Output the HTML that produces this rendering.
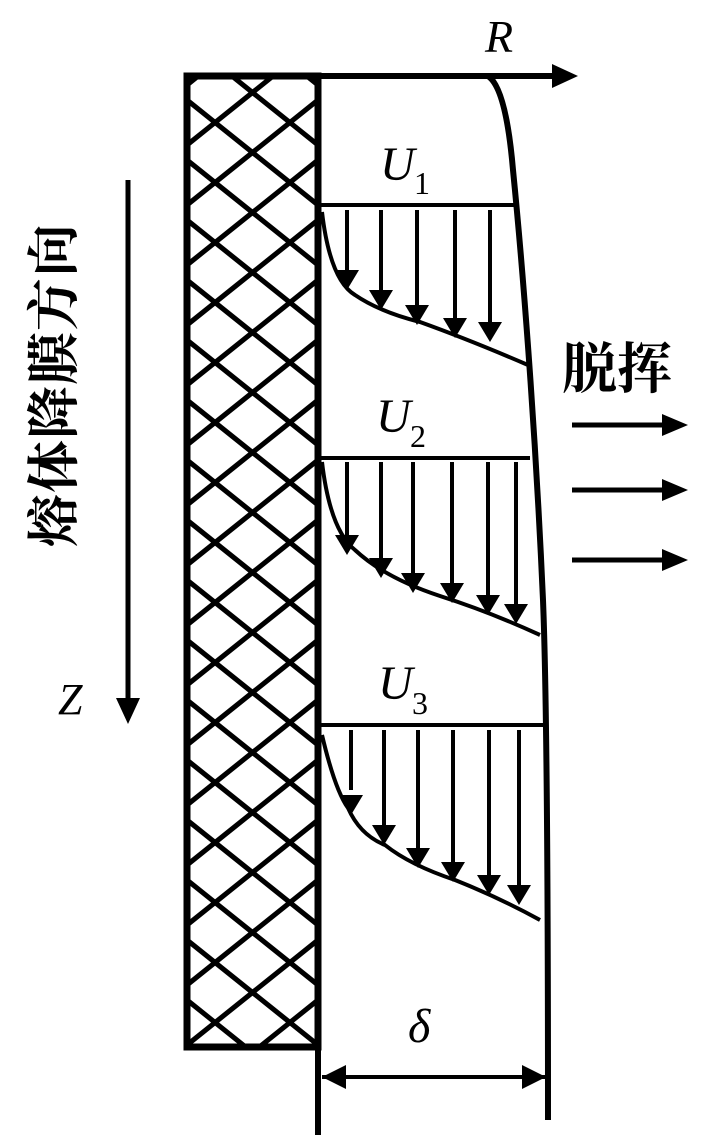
<!DOCTYPE html>
<html><head><meta charset="utf-8"><style>html,body{margin:0;padding:0;background:#fff}svg{display:block}</style></head>
<body>
<svg width="709" height="1143" viewBox="0 0 709 1143" xmlns="http://www.w3.org/2000/svg">
<defs>
<clipPath id="c"><rect x="187" y="76" width="131" height="971"/></clipPath>
</defs>
<g clip-path="url(#c)" stroke="#000" stroke-width="5">
<path d="M187,40 L318,145 M187,100 L318,205 M187,160 L318,265 M187,220 L318,325 M187,280 L318,385 M187,340 L318,445 M187,400 L318,505 M187,460 L318,565 M187,520 L318,625 M187,580 L318,685 M187,640 L318,745 M187,700 L318,805 M187,760 L318,865 M187,820 L318,925 M187,880 L318,985 M187,940 L318,1045 M187,1000 L318,1105 M187,1060 L318,1165 M187,-20 L318,85"/>
<path d="M318,40 L187,145 M318,100 L187,205 M318,160 L187,265 M318,220 L187,325 M318,280 L187,385 M318,340 L187,445 M318,400 L187,505 M318,460 L187,565 M318,520 L187,625 M318,580 L187,685 M318,640 L187,745 M318,700 L187,805 M318,760 L187,865 M318,820 L187,925 M318,880 L187,985 M318,940 L187,1045 M318,1000 L187,1105 M318,1060 L187,1165 M318,-20 L187,85"/>
</g>
<rect x="187" y="76" width="131" height="971" fill="none" stroke="#000" stroke-width="7"/>
<line x1="318" y1="76" x2="318" y2="1135" stroke="#000" stroke-width="6"/>
<line x1="187" y1="76" x2="560" y2="76" stroke="#000" stroke-width="6"/>
<path d="M552,64 L578,76 L552,88 z" fill="#000"/>
<text x="485" y="52" font-family="Liberation Serif, serif" font-style="italic" font-size="46">R</text>
<path d="M488,76 Q506,88 513,170 C522,260 535,420 543,600 C547,700 548,900 548,1120" fill="none" stroke="#000" stroke-width="6"/>

<g stroke="#000" stroke-width="4" fill="none">
<line x1="318" y1="205" x2="515" y2="205"/>
<path d="M322,212 Q330,280 355,295 Q380,312 420,322 Q470,340 528,365"/>
<line x1="318" y1="458" x2="530" y2="458"/>
<path d="M322,462 Q330,530 355,550 Q385,578 440,596 Q490,612 540,635"/>
<line x1="318" y1="725" x2="547" y2="725"/>
<path d="M322,735 Q335,790 348,808 Q360,835 385,845 Q410,865 455,880 Q500,898 540,920"/>
<line x1="322" y1="1077" x2="546" y2="1077"/>
</g>
<g stroke="#000" stroke-width="4">
<line x1="347" y1="210" x2="347" y2="270"/><line x1="381" y1="210" x2="381" y2="290"/><line x1="417" y1="210" x2="417" y2="305"/><line x1="455" y1="210" x2="455" y2="320"/><line x1="490" y1="210" x2="490" y2="325"/>
<line x1="347" y1="462" x2="347" y2="535"/><line x1="381" y1="462" x2="381" y2="560"/><line x1="413" y1="462" x2="413" y2="575"/><line x1="452" y1="462" x2="452" y2="585"/><line x1="488" y1="462" x2="488" y2="598"/><line x1="516" y1="462" x2="516" y2="608"/>
<line x1="351" y1="730" x2="351" y2="790"/><line x1="384" y1="730" x2="384" y2="825"/><line x1="418" y1="730" x2="418" y2="850"/><line x1="453" y1="730" x2="453" y2="865"/><line x1="489" y1="730" x2="489" y2="880"/><line x1="519" y1="730" x2="519" y2="890"/>
</g>
<g fill="#000">
<path d="M335,270 h24 l-12,20z"/><path d="M369,290 h24 l-12,20z"/><path d="M405,305 h24 l-12,20z"/><path d="M443,318 h24 l-12,20z"/><path d="M478,322 h24 l-12,20z"/>
<path d="M335,535 h24 l-12,20z"/><path d="M369,558 h24 l-12,20z"/><path d="M401,573 h24 l-12,20z"/><path d="M440,583 h24 l-12,20z"/><path d="M476,595 h24 l-12,20z"/><path d="M504,604 h24 l-12,20z"/>
<path d="M339,795 h24 l-12,20z"/><path d="M372,825 h24 l-12,20z"/><path d="M406,848 h24 l-12,20z"/><path d="M441,862 h24 l-12,20z"/><path d="M477,875 h24 l-12,20z"/><path d="M507,885 h24 l-12,20z"/>
<path d="M322,1077 l24,-12 v24z"/><path d="M546,1077 l-24,-12 v24z"/>
</g>
<g font-family="Liberation Serif, serif" font-style="italic" font-size="48">
<text x="380" y="180">U</text><text x="414" y="194" font-style="normal" font-size="32">1</text>
<text x="376" y="432">U</text><text x="410" y="447" font-style="normal" font-size="32">2</text>
<text x="378" y="699">U</text><text x="412" y="714" font-style="normal" font-size="32">3</text>
<text x="408" y="1042">δ</text>
<text x="58" y="714" font-size="44">Z</text>
</g>
<line x1="128" y1="180" x2="128" y2="700" stroke="#000" stroke-width="5"/>
<path d="M116,698 L140,698 L128,724 z" fill="#000"/>
<text transform="translate(72,547) rotate(-90)" font-family="Noto Serif CJK SC, Noto Sans CJK SC, serif" font-weight="bold" font-size="53" letter-spacing="1">熔体降膜方向</text>
<text x="562" y="388" font-family="Noto Serif CJK SC, Noto Sans CJK SC, serif" font-weight="bold" font-size="55">脱挥</text>
<g stroke="#000" stroke-width="5">
<line x1="572" y1="425" x2="665" y2="425"/><line x1="572" y1="490" x2="665" y2="490"/><line x1="572" y1="560" x2="665" y2="560"/>
</g>
<g fill="#000"><path d="M662,414 L688,425 L662,436z"/><path d="M662,479 L688,490 L662,501z"/><path d="M662,549 L688,560 L662,571z"/></g>
</svg>
</body></html>
